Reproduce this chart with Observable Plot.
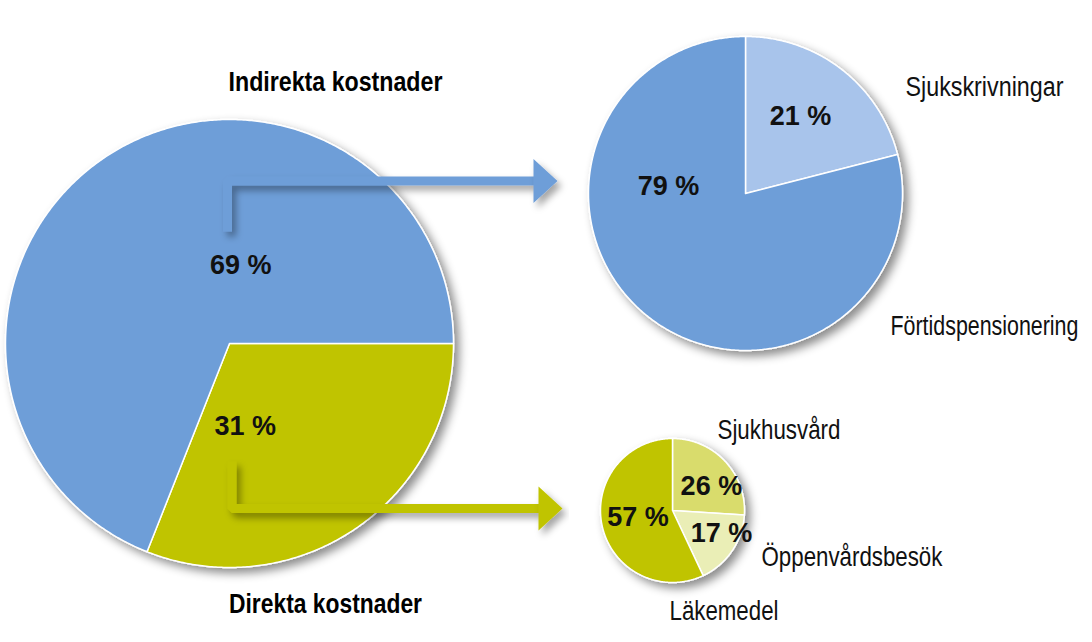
<!DOCTYPE html>
<html>
<head>
<meta charset="utf-8">
<script src="https://cdn.jsdelivr.net/npm/d3@7"></script>
<script src="https://cdn.jsdelivr.net/npm/@observablehq/plot@0.6"></script>
<style>
  html, body { margin: 0; padding: 0; background: #fff; }
  #chart svg { display: block; }
</style>
</head>
<body>
<div id="chart"></div>
<script>
// ---------- data ----------
const totalCategories = ["Direkta kostnader", "Indirekta kostnader"];
const totalValues = [31, 69];
const indirectCategories = ["Sjukskrivningar", "Förtidspensionering"];
const indirectValues = [21, 79];
const directCategories = ["Sjukhusvård", "Öppenvårdsbesök", "Läkemedel"];
const directValues = [26, 17, 57];

// ---------- layout ----------
const W = 1092, H = 642;
const pies = [
  {id: "total", cx: 229, cy: 343, r: 224, start: 90, cats: totalCategories, vals: totalValues,
   colors: ["#c0c400", "#6e9ed8"]},
  {id: "indirect", cx: 745, cy: 193, r: 157, start: 0, cats: indirectCategories, vals: indirectValues,
   colors: ["#a8c4eb", "#6e9ed8"]},
  {id: "direct", cx: 672, cy: 510, r: 72, start: 0, cats: directCategories, vals: directValues,
   colors: ["#d9dc6c", "#eaeeb6", "#c0c400"]}
];
// percent label positions (fraction offsets from pie centre, in pie radii)
const pctPos = {
  "Indirekta kostnader": [0.05, -0.35], "Direkta kostnader": [0.07, 0.37],
  "Sjukskrivningar": [0.35, -0.49], "Förtidspensionering": [-0.49, -0.045],
  "Sjukhusvård": [0.54, -0.34], "Öppenvårdsbesök": [0.68, 0.32], "Läkemedel": [-0.48, 0.10]
};
// category label positions and rendered widths (condensed type)
const catLabels = [
  {text: "Indirekta kostnader", x: 335, y: 82, w: 214, bold: true},
  {text: "Direkta kostnader", x: 325, y: 604, w: 193, bold: true},
  {text: "Sjukskrivningar", x: 905, y: 87, w: 158},
  {text: "Förtidspensionering", x: 890, y: 326, w: 188},
  {text: "Sjukhusvård", x: 717, y: 430, w: 123},
  {text: "Öppenvårdsbesök", x: 761, y: 557, w: 181},
  {text: "Läkemedel", x: 669, y: 611, w: 109}
];

// ---------- build slice polygons ----------
const pt = (p, r, a) => ({x: p.cx + r * Math.sin(a * Math.PI / 180), y: p.cy - r * Math.cos(a * Math.PI / 180)});
const slices = [];
const pctLabels = [];
for (const p of pies) {
  const total = d3.sum(p.vals);
  let a = p.start;
  p.vals.forEach((v, i) => {
    const a0 = a, a1 = a + v / total * 360;
    const key = p.id + "-" + i;
    slices.push({key, pie: p.id, color: p.colors[i], ...pt(p, 0, 0)});
    for (let t = a0; t < a1; t += 0.5) slices.push({key, pie: p.id, color: p.colors[i], ...pt(p, p.r, t)});
    slices.push({key, pie: p.id, color: p.colors[i], ...pt(p, p.r, a1)});
    slices.push({key, pie: p.id, color: p.colors[i], ...pt(p, 0, 0)});
    const off = pctPos[p.cats[i]];
    pctLabels.push({text: v + " %", x: p.cx + off[0] * p.r, y: p.cy + off[1] * p.r});
    a = a1;
  });
}

// ---------- arrows (from big pie into the two detail pies) ----------
const bigPie = pies[0], topPie = pies[1], smallPie = pies[2];
const arrows = [
  {id: "a1", color: "#6e9ed8", xs: bigPie.cx - 2, ys: bigPie.cy - 112, y: 180.5, xe: topPie.cx - topPie.r - 31},
  {id: "a2", color: "#c0c400", xs: bigPie.cx + 2.5, ys: bigPie.cy + 118, y: 508, xe: smallPie.cx - smallPie.r - 38}
];
const arrowLines = [], arrowHeads = [];
for (const a of arrows) {
  arrowLines.push({id: a.id, color: a.color, x: a.xs, y: a.ys});
  arrowLines.push({id: a.id, color: a.color, x: a.xs, y: a.y});
  arrowLines.push({id: a.id, color: a.color, x: a.xe - 23, y: a.y});
  arrowHeads.push({id: a.id, color: a.color, x: a.xe - 24, y: a.y - 22});
  arrowHeads.push({id: a.id, color: a.color, x: a.xe, y: a.y});
  arrowHeads.push({id: a.id, color: a.color, x: a.xe - 24, y: a.y + 22});
  arrowHeads.push({id: a.id, color: a.color, x: a.xe - 24, y: a.y - 22});
}

const sansFont = "'Liberation Sans', Arial, Helvetica, sans-serif";

const chart = Plot.plot({
  width: W, height: H, margin: 0,
  x: {domain: [0, W], range: [0, W], axis: null},
  y: {domain: [0, H], range: [0, H], axis: null},
  marks: [
    Plot.line(slices.filter(d => d.pie === "total"), {x: "x", y: "y", z: "key", fill: "color", stroke: "white", strokeWidth: 1.5, curve: "linear", ariaDescription: "pie"}),
    Plot.line(slices.filter(d => d.pie !== "total"), {x: "x", y: "y", z: "key", fill: "color", stroke: "white", strokeWidth: 1.5, curve: "linear", ariaDescription: "pie"}),
    Plot.line(arrowLines, {x: "x", y: "y", z: "id", stroke: "color", strokeWidth: 9, strokeLinejoin: "miter", strokeLinecap: "butt", curve: "linear", ariaDescription: "arrow"}),
    Plot.line(arrowHeads, {x: "x", y: "y", z: "id", fill: "color", stroke: "none", curve: "linear", ariaDescription: "arrow"}),
    Plot.text(pctLabels, {x: "x", y: "y", text: "text", fontSize: 27, fontWeight: "bold", fill: "#111", fontFamily: sansFont}),
    Plot.text(catLabels.filter(d => d.bold), {x: "x", y: "y", text: "text", textAnchor: "middle", fontSize: 28, fontWeight: "bold", fill: "#000", fontFamily: sansFont, ariaDescription: "cat-bold"}),
    Plot.text(catLabels.filter(d => !d.bold), {x: "x", y: "y", text: "text", textAnchor: "start", fontSize: 28, fill: "#111", fontFamily: sansFont, ariaDescription: "cat"})
  ]
});

document.getElementById("chart").appendChild(chart);

// condensed type: squeeze category labels horizontally to their reference widths
const svg = d3.select(chart);
function condense(sel, rows) {
  sel.each(function(_, i) {
    const natural = this.getComputedTextLength();
    const sx = rows[i].w / natural;
    const t = this.getAttribute("transform") || "";
    this.setAttribute("transform", t + " scale(" + sx + ",1)");
  });
}
condense(svg.selectAll("g[aria-description=cat-bold] text"), catLabels.filter(d => d.bold));
condense(svg.selectAll("g[aria-description=cat] text"), catLabels.filter(d => !d.bold));

// drop shadows
const defs = svg.insert("defs", ":first-child");
defs.append("filter").attr("id", "pieShadow").attr("x", "-20%").attr("y", "-20%").attr("width", "140%").attr("height", "140%")
  .append("feDropShadow").attr("dx", 5).attr("dy", 5).attr("stdDeviation", 5).attr("flood-color", "#000").attr("flood-opacity", 0.45);
defs.append("filter").attr("id", "arrowShadow").attr("x", "-20%").attr("y", "-20%").attr("width", "140%").attr("height", "140%")
  .append("feDropShadow").attr("dx", 4).attr("dy", 5).attr("stdDeviation", 3.5).attr("flood-color", "#000").attr("flood-opacity", 0.35);
svg.selectAll("g[aria-description=pie]").attr("filter", "url(#pieShadow)");
svg.selectAll("g[aria-description=arrow]").attr("filter", "url(#arrowShadow)");
</script>
</body>
</html>
